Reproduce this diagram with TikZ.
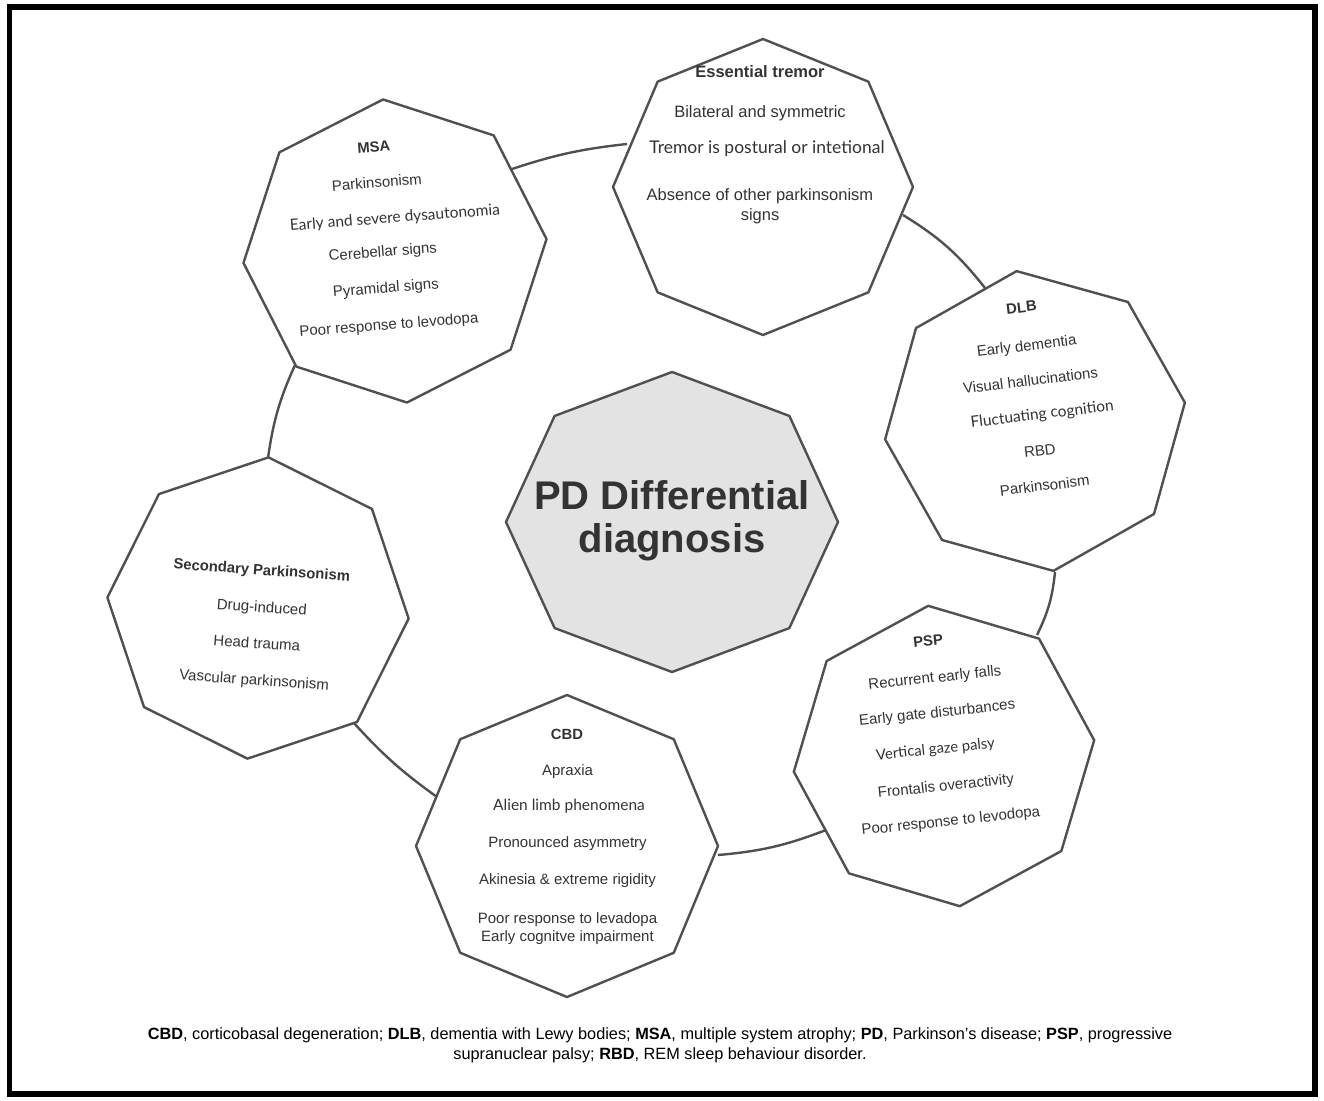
\documentclass[tikz,border=0pt]{standalone}
\usepackage{fontspec}
\setmainfont{Liberation Sans}
\newfontfamily\gillfont{Lato}
\usetikzlibrary{calc}
\definecolor{lineg}{HTML}{505050}
\definecolor{textg}{HTML}{333333}
\definecolor{fillg}{HTML}{E3E3E3}
\tikzset{
  x=1pt, y=-1pt,
  octo/.style={draw=lineg, line width=2.4pt, fill=white, line join=round},
  centeroct/.style={draw=lineg, line width=2.4pt, fill=fillg, line join=round},
  link/.style={draw=lineg, line width=2.4pt},
  item/.style={font=\fontsize{15}{18}\selectfont, text=textg, inner sep=0pt, text height=0.72em, text depth=0.08em, yshift=-2.5pt},
  gitem/.style={font=\gillfont\fontsize{15.5}{18}\selectfont, text=textg, inner sep=0pt, text height=0.72em, text depth=0.08em, yshift=-2.5pt},
  etitem/.style={font=\fontsize{16.5}{20}\selectfont, text=textg, inner sep=0pt, text height=0.72em, text depth=0.08em, yshift=-2.5pt},
  ttl/.style={font=\fontsize{14.8}{18}\selectfont\bfseries, text=textg, inner sep=0pt, text height=0.72em, text depth=0.08em, yshift=-2.5pt},
  frame/.style={draw=black, line width=5.5pt},
}
\begin{document}
\begin{tikzpicture}
\useasboundingbox (0,0) rectangle (1324,1100);
\fill[white] (0,0) rectangle (1324,1100);
\draw[frame] (9.5,7) rectangle (1315,1094);

% connection points
\coordinate (msaR) at (512,169);
\coordinate (etL) at (627,144);
\coordinate (etR) at (903,215);
\coordinate (dlbL) at (985,288);
\coordinate (dlbB) at (1055,572);
\coordinate (pspT) at (1037,635);
\coordinate (pspL) at (826,830);
\coordinate (cbdR) at (718,855);
\coordinate (cbdL) at (437,797);
\coordinate (secR) at (353,722);
\coordinate (secT) at (268,458);
\coordinate (msaB) at (295,365);

\draw[link] (msaR) to[bend left=6] (etL);
\draw[link] (etR) to[bend left=10] (dlbL);
\draw[link] (dlbB) to[bend left=10] (pspT);
\draw[link] (pspL) to[bend left=8] (cbdR);
\draw[link] (cbdL) to[bend left=6] (secR);
\draw[link] (secT) to[bend left=8] (msaB);

% centre
\draw[centeroct] (672,522) +(90:166 and 150) -- +(45:166 and 150) -- +(0:166 and 150) -- +(-45:166 and 150) -- +(-90:166 and 150) -- +(-135:166 and 150) -- +(180:166 and 150) -- +(135:166 and 150) -- cycle;
\node[font=\fontsize{40}{43}\selectfont\bfseries, text=textg, align=center, inner sep=0pt] (pd) at (672,521) {PD Differential\\diagnosis};

% Essential tremor
\begin{scope}[shift={(763,187)}]
\draw[octo] (90:148) -- (45:149) -- (0:150) -- (-45:149) -- (-90:148) -- (-135:149) -- (180:150) -- (135:149) -- cycle;
\end{scope}
\node[ttl, font=\fontsize{16.5}{20}\selectfont\bfseries] (et) at (760,72) {Essential tremor};
\node[etitem] (et1) at (760,112) {Bilateral and symmetric};
\node[etitem, font=\gillfont\fontsize{17.5}{20}\selectfont] (et2) at (767,148) {Tremor is postural or intetional};
\node[etitem, align=center, text height=, text depth=, yshift=0pt] (et3) at (760,204) {Absence of other parkinsonism\\signs};

% MSA
\begin{scope}[shift={(395,251)}, rotate=4.5]
\draw[octo] (90:152) -- (45:152) -- (0:152) -- (-45:152) -- (-90:152) -- (-135:152) -- (180:152) -- (135:152) -- cycle;
\node[ttl, rotate=4.5] (msa) at (-12.7,-106.3) {MSA};
\node[item, rotate=4.5] (msa1) at (-12.5,-70.2) {Parkinsonism};
\node[gitem, rotate=4.5] (msa2) at (2.7,-33.9) {Early and severe dysautonomia};
\node[item, rotate=4.5] (msa3) at (-12,-0.9) {Cerebellar signs};
\node[item, rotate=4.5] (msa4) at (-11.8,35.2) {Pyramidal signs};
\node[item, rotate=4.5] (msa5) at (-11.7,72.3) {Poor response to levodopa};
\end{scope}

% DLB
\begin{scope}[shift={(1035,421)}, rotate=7]
\draw[octo] (90:151) -- (45:151) -- (0:151) -- (-45:151) -- (-90:151) -- (-135:151) -- (180:151) -- (135:151) -- cycle;
\node[ttl, rotate=7] (dlb) at (0.7,-115) {DLB};
\node[item, rotate=7] (dlb1) at (1.1,-76.4) {Early dementia};
\node[item, rotate=7] (dlb2) at (0.7,-41.2) {Visual hallucinations};
\node[gitem, rotate=7] (dlb3) at (8.2,-6.7) {Fluctuating cognition};
\node[item, rotate=7] (dlb4) at (1.5,29.4) {RBD};
\node[item, rotate=7] (dlb5) at (2.1,64.7) {Parkinsonism};
\end{scope}

% PSP
\begin{scope}[shift={(944,756)}, rotate=6]
\draw[octo] (90:151) -- (45:151) -- (0:151) -- (-45:151) -- (-90:151) -- (-135:151) -- (180:151) -- (135:151) -- cycle;
\node[ttl, rotate=6] (psp) at (-3.6,-116.3) {PSP};
\node[item, rotate=6] (psp1) at (-0.7,-79.8) {Recurrent early falls};
\node[item, rotate=6] (psp2) at (-2.1,-44.8) {Early gate disturbances};
\node[gitem, font=\gillfont\fontsize{14.8}{18}\selectfont, rotate=6] (psp3) at (-7.5,-8.6) {Vertical gaze palsy};
\node[item, rotate=6] (psp4) at (-1,29) {Frontalis overactivity};
\node[item, rotate=6] (psp5) at (0.3,64.3) {Poor response to levodopa};
\end{scope}

% CBD
\begin{scope}[shift={(567,846)}]
\draw[octo] (90:151) -- (45:151) -- (0:151) -- (-45:151) -- (-90:151) -- (-135:151) -- (180:151) -- (135:151) -- cycle;
\end{scope}
\node[ttl] (cbd) at (567,734) {CBD};
\node[item] (cbd1) at (567.5,770) {Apraxia};
\node[gitem] (cbd2) at (569,805) {Alien limb phenomena};
\node[item] (cbd3) at (567.5,842) {Pronounced asymmetry};
\node[item] (cbd4) at (567.5,879) {Akinesia \& extreme rigidity};
\node[item, align=center, text height=, text depth=, yshift=0pt] (cbd5) at (567.5,926) {Poor response to levadopa\\Early cognitve impairment};

% Secondary parkinsonism
\begin{scope}[shift={(258,608)}, rotate=-4]
\draw[octo] (90:151) -- (45:151) -- (0:151) -- (-45:151) -- (-90:151) -- (-135:151) -- (180:151) -- (135:151) -- cycle;
\node[ttl, rotate=-4] (sec) at (1,-38.9) {Secondary Parkinsonism};
\node[item, rotate=-4] (sec1) at (3.6,-1.6) {Drug-induced};
\node[item, rotate=-4] (sec2) at (1.1,34.7) {Head trauma};
\node[item, rotate=-4] (sec3) at (1,71.4) {Vascular parkinsonism};
\end{scope}

% caption
\node[font=\fontsize{16.3}{19.5}\selectfont, text=black, align=center, inner sep=0pt] (cap) at (660,1045.5)
  {\textbf{CBD}, corticobasal degeneration; \textbf{DLB}, dementia with Lewy bodies; \textbf{MSA}, multiple system atrophy; \textbf{PD}, Parkinson’s disease; \textbf{PSP}, progressive\\supranuclear palsy; \textbf{RBD}, REM sleep behaviour disorder.};
\end{tikzpicture}
\end{document}
